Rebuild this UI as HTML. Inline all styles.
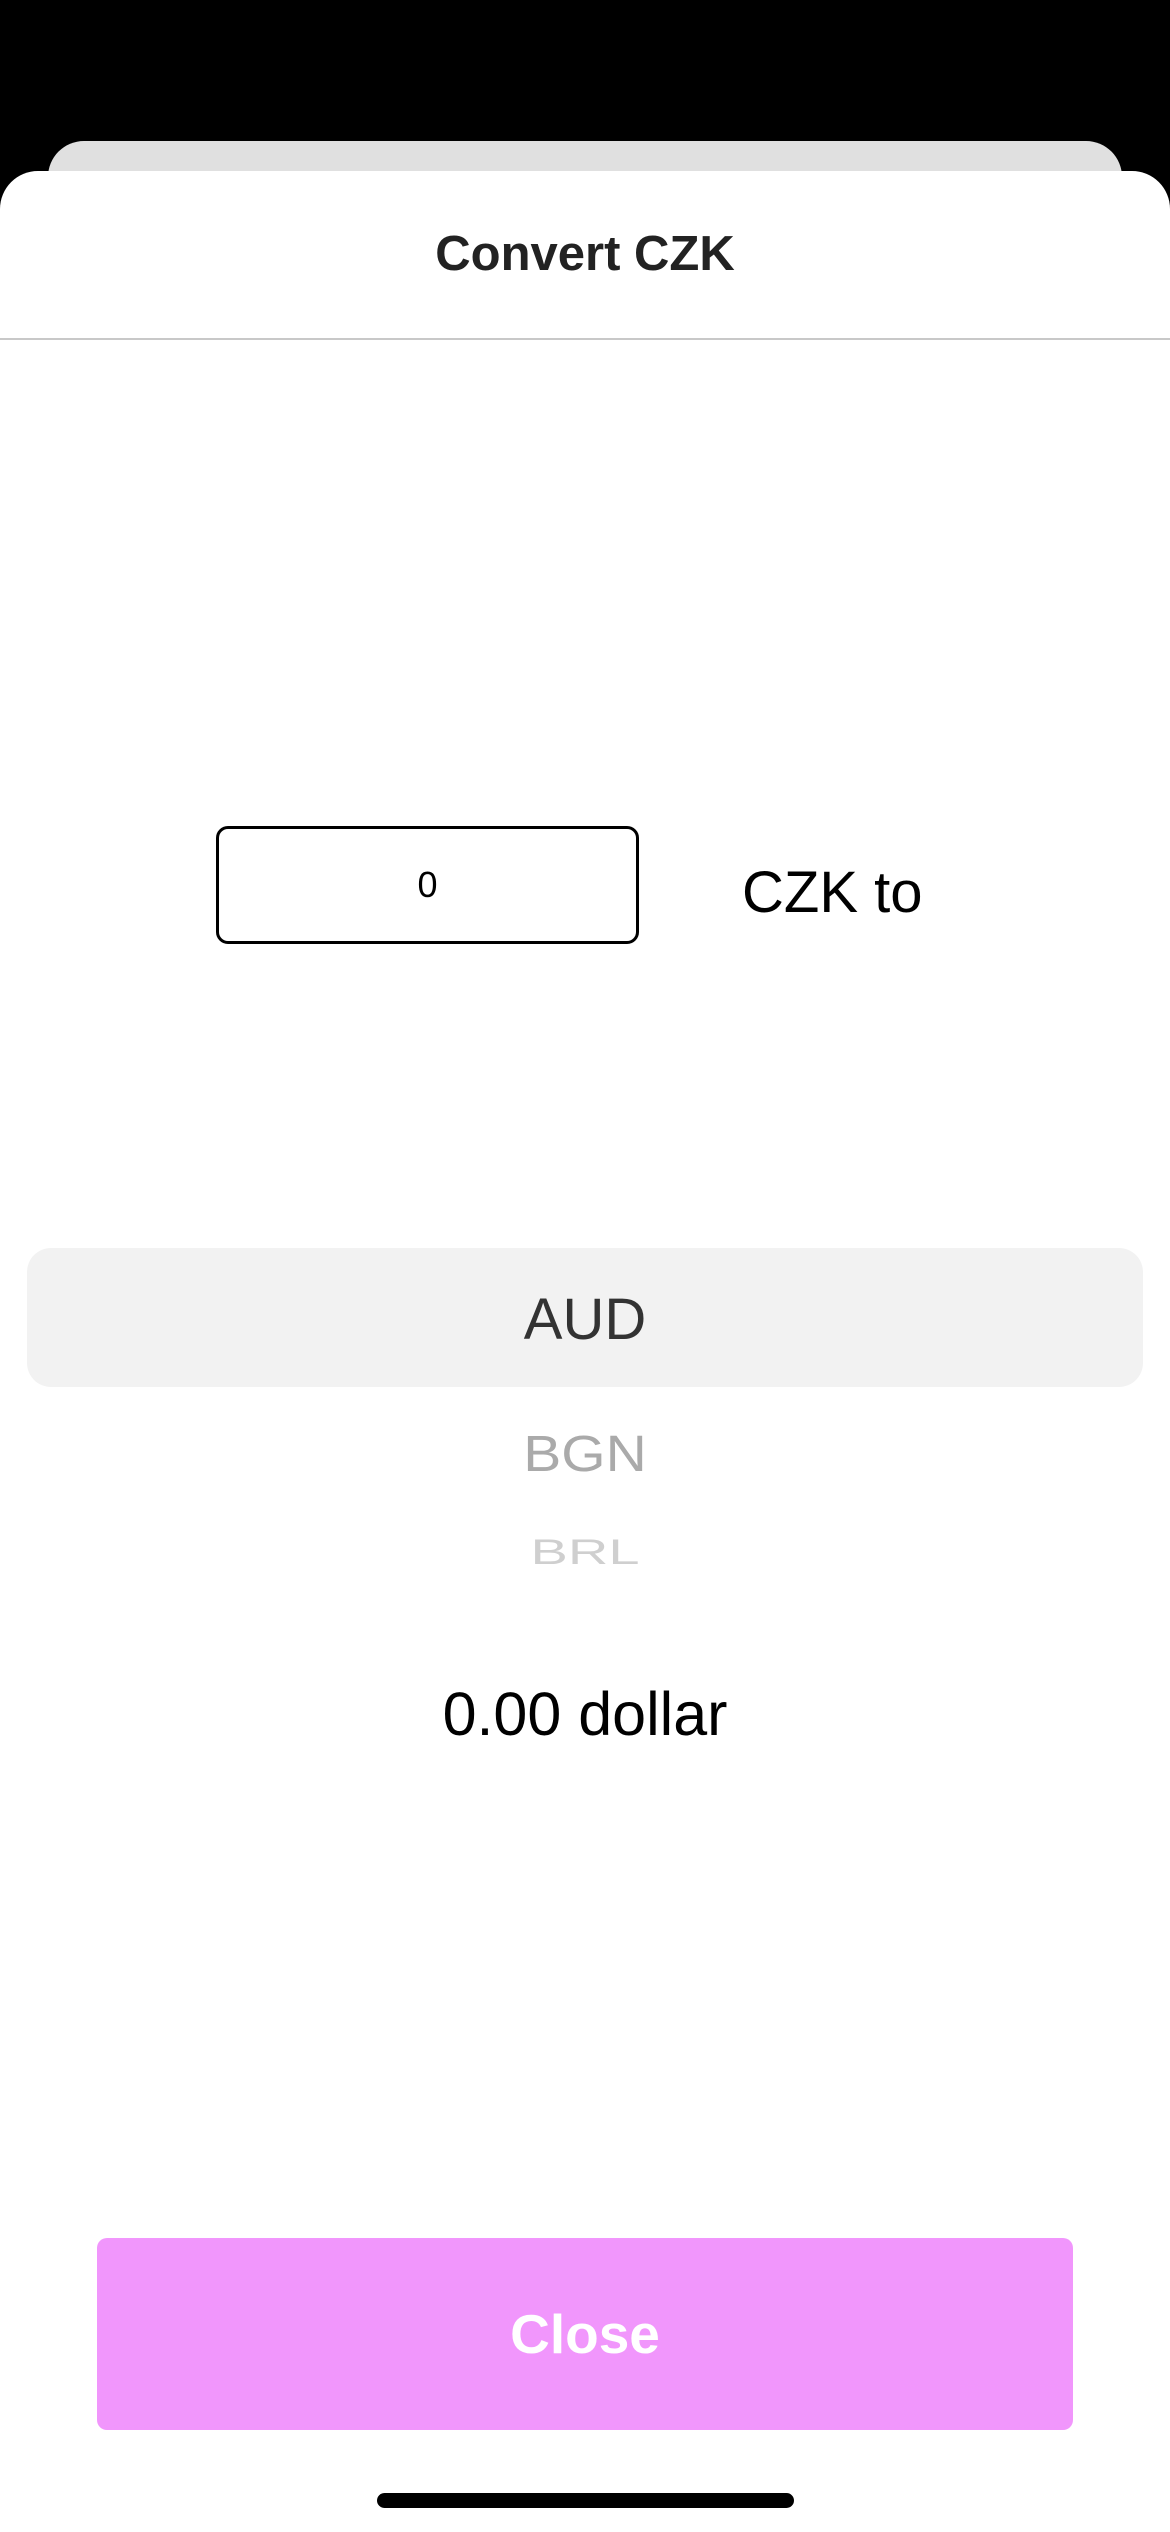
<!DOCTYPE html>
<html><head><meta charset="utf-8"><style>
*{margin:0;padding:0;box-sizing:border-box}
body{width:1170px;height:2532px;background:#000;position:relative;overflow:hidden;font-family:"Liberation Sans",sans-serif}
.abs{position:absolute}
.c{text-align:center;white-space:nowrap}
</style></head><body>
<div class="abs" style="left:48px;top:141px;width:1074px;height:120px;background:#e0e0e0;border-radius:36px 36px 0 0"></div>
<div class="abs" style="left:0;top:171px;width:1170px;height:2361px;background:#fff;border-radius:38px 38px 0 0">
</div>
<div class="abs c" style="left:0;width:1170px;top:224px;font-size:49px;line-height:60px;font-weight:bold;color:#222">Convert CZK</div>
<div class="abs" style="left:0;top:338px;width:1170px;height:2px;background:#c8c8c8"></div>
<div class="abs c" style="left:216px;top:826px;width:423px;height:118px;border:3px solid #000;border-radius:12px;font-size:36px;line-height:112px;color:#000">0</div>
<div class="abs" style="left:742px;top:860px;font-size:58px;line-height:66px;color:#000">CZK to</div>
<div class="abs" style="left:27px;top:1248px;width:1116px;height:139px;background:#f2f2f2;border-radius:24px"></div>
<div class="abs c" style="left:0;width:1170px;top:1286px;font-size:58px;line-height:68px;color:#333">AUD</div>
<div class="abs c" style="left:0;width:1170px;top:1421px;font-size:57px;line-height:66px;color:#aaa;transform:scaleY(0.9)">BGN</div>
<div class="abs" style="left:0;width:1170px;top:1522px;height:62px;overflow:hidden">
<div class="c" style="width:1170px;margin-top:2px;font-size:56px;line-height:66px;color:#cfcfcf;transform:scaleY(0.62);transform-origin:50% 30%">BRL</div>
</div>
<div class="abs c" style="left:0;width:1170px;top:1680px;font-size:61px;line-height:68px;color:#000">0.00 dollar</div>
<div class="abs c" style="left:97px;top:2238px;width:976px;height:192px;background:#f196fc;border-radius:10px;color:#fff;font-weight:bold;font-size:55px;line-height:192px">Close</div>
<div class="abs" style="left:377px;top:2493px;width:417px;height:15px;background:#000;border-radius:8px"></div>
</body></html>
